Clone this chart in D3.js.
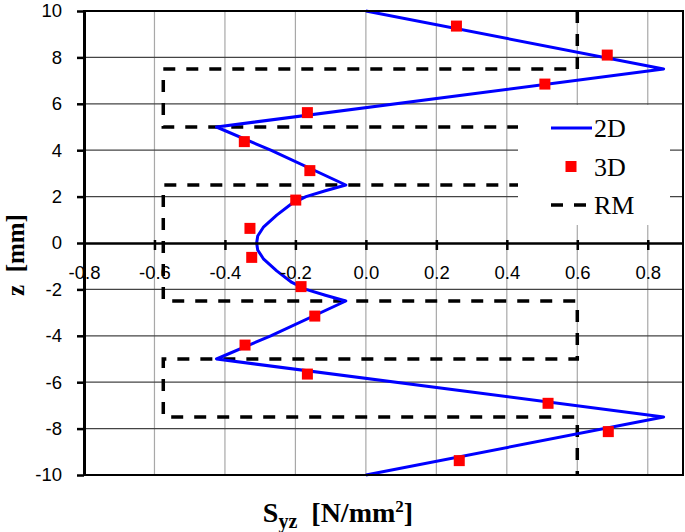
<!DOCTYPE html>
<html>
<head>
<meta charset="utf-8">
<script src="https://cdn.jsdelivr.net/npm/d3@7"></script>
<style>
  body { margin: 0; background: #fff; }
  text { white-space: pre; }
</style>
</head>
<body>
<div id="chart"></div>
<script>
// 2D solution (stress, z)
const line2dS = [0, 0.845, -0.424, -0.27, -0.057, -0.115, -0.17, -0.21, -0.253, -0.29, -0.307, -0.31,
  -0.307, -0.29, -0.253, -0.21, -0.17, -0.115, -0.057, -0.27, -0.424, 0.845, 0];
const line2dZ = [10, 7.5, 5, 4, 2.5, 2.25, 2.0, 1.7, 1.2, 0.7, 0.3, 0,
  -0.3, -0.7, -1.2, -1.7, -2.0, -2.25, -2.5, -4, -5, -7.5, -10];

// 3D results
const pts3dS = [0.257, 0.685, 0.508, -0.166, -0.345, -0.159, -0.199, -0.329,
  -0.324, -0.184, -0.145, -0.343, -0.166, 0.517, 0.688, 0.265];
const pts3dZ = [9.35, 8.10, 6.85, 5.62, 4.37, 3.12, 1.85, 0.63,
  -0.62, -1.88, -3.15, -4.40, -5.65, -6.91, -8.13, -9.38];

// RM step profile
const rmS = [0.6, 0.6, -0.575, -0.575, 0.6, 0.6, -0.575, -0.575, 0.6, 0.6, -0.575, -0.575, 0.6, 0.6];
const rmZ = [10, 7.5, 7.5, 5, 5, 2.5, 2.5, -2.5, -2.5, -5, -5, -7.5, -7.5, -10];

// ticks
const xTicks = [-0.8, -0.6, -0.4, -0.2, 0.0, 0.2, 0.4, 0.6, 0.8];
const yTicks = [-10, -8, -6, -4, -2, 0, 2, 4, 6, 8, 10];
const legendNames = ['2D', '3D', 'RM'];

const width = 685;
const height = 532;

const svg = d3.select('#chart')
  .append('svg')
  .attr('width', width)
  .attr('height', height);

const x = d3.scaleLinear().domain([-0.8, 0.9]).range([84, 683]);
const y = d3.scaleLinear().domain([-10, 10]).range([475, 11]);

// vertical grid (light)
svg.append('g')
  .selectAll('line')
  .data(xTicks.filter(d => d > -0.8))
  .enter()
  .append('line')
  .attr('x1', d => x(d)).attr('x2', d => x(d))
  .attr('y1', y(10)).attr('y2', y(-10))
  .attr('stroke', '#a8a8a8')
  .attr('stroke-width', 1.2);

// horizontal grid (dark)
svg.append('g')
  .selectAll('line')
  .data(yTicks.filter(d => d > -10 && d < 10 && d !== 0))
  .enter()
  .append('line')
  .attr('x1', x(-0.8)).attr('x2', x(0.9))
  .attr('y1', d => y(d)).attr('y2', d => y(d))
  .attr('stroke', '#444')
  .attr('stroke-width', 1.2);

// RM dashed
const rmData = rmS.map((s, i) => ({ s, z: rmZ[i] }));
svg.append('path')
  .datum(rmData)
  .attr('fill', 'none')
  .attr('stroke', '#000')
  .attr('stroke-width', 3.5)
  .attr('stroke-dasharray', '12,11')
  .attr('d', d3.line().x(d => x(d.s)).y(d => y(d.z)));

// 2D blue line
const data2d = line2dS.map((s, i) => ({ s, z: line2dZ[i] }));
svg.append('path')
  .datum(data2d)
  .attr('fill', 'none')
  .attr('stroke', '#0000ff')
  .attr('stroke-width', 3)
  .attr('stroke-linejoin', 'round')
  .attr('d', d3.line().x(d => x(d.s)).y(d => y(d.z)));

// 3D markers
const mk = 11;
svg.append('g')
  .selectAll('rect')
  .data(pts3dS.map((s, i) => ({ s, z: pts3dZ[i] })))
  .enter()
  .append('rect')
  .attr('x', d => x(d.s) - mk / 2)
  .attr('y', d => y(d.z) - mk / 2)
  .attr('width', mk)
  .attr('height', mk)
  .attr('fill', '#ff0000');

// legend
const legend = svg.append('g');
legend.append('rect')
  .attr('x', 518).attr('y', 105)
  .attr('width', 152).attr('height', 120)
  .attr('fill', '#fff');

const legendItem = legend.selectAll('g')
  .data(legendNames)
  .enter()
  .append('g')
  .attr('transform', (d, i) => `translate(551, ${128 + i * 38.5})`);

legendItem.each(function (d) {
  const g = d3.select(this);
  if (d === '2D') {
    g.append('line').attr('x1', 0).attr('x2', 41).attr('stroke', '#0000ff').attr('stroke-width', 3);
  } else if (d === '3D') {
    g.append('rect').attr('x', 20 - mk / 2).attr('y', -mk / 2).attr('width', mk).attr('height', mk).attr('fill', '#ff0000');
  } else {
    g.append('line').attr('x1', 0).attr('x2', 37).attr('stroke', '#000').attr('stroke-width', 3.5).attr('stroke-dasharray', '12,11');
  }
  g.append('text')
    .attr('x', 43)
    .attr('y', 9)
    .text(d)
    .style('font-family', '"Liberation Serif", "Times New Roman", serif')
    .style('font-size', '26px')
    .style('fill', '#000');
});

// frame
svg.append('rect')
  .attr('x', x(-0.8)).attr('y', y(10))
  .attr('width', x(0.9) - x(-0.8)).attr('height', y(-10) - y(10))
  .attr('fill', 'none')
  .attr('stroke', '#000')
  .attr('stroke-width', 2);

// y axis
const yAxis = svg.append('g')
  .attr('transform', `translate(${x(-0.8)},0)`)
  .call(d3.axisLeft(y).tickValues(yTicks).tickFormat(d => String(d)).tickSize(7).tickSizeOuter(0).tickPadding(15));
yAxis.select('.domain').attr('stroke-width', 3);
yAxis.selectAll('.tick line').attr('stroke-width', 2.5);
yAxis.selectAll('text')
  .style('font-family', '"Liberation Sans", Arial, sans-serif')
  .style('font-size', '18.5px')
  .style('fill', '#000');

// x axis at z = 0
const xAxis = svg.append('g')
  .attr('transform', `translate(0,${y(0)})`)
  .call(d3.axisBottom(x).tickValues(xTicks).tickFormat(d => d.toFixed(1)).tickSize(7).tickSizeOuter(0).tickPadding(16));
xAxis.select('.domain').attr('stroke-width', 2.5);
xAxis.selectAll('.tick line').attr('stroke-width', 2.5).attr('y1', -3);
xAxis.selectAll('text')
  .style('font-family', '"Liberation Sans", Arial, sans-serif')
  .style('font-size', '18.5px')
  .style('fill', '#000');

// axis titles
const xTitle = svg.append('text')
  .attr('x', 338)
  .attr('y', 522)
  .attr('text-anchor', 'middle')
  .style('font-family', '"Liberation Serif", "Times New Roman", serif')
  .style('font-weight', 'bold')
  .style('font-size', '28px')
  .style('fill', '#000');
xTitle.append('tspan').text('S');
xTitle.append('tspan').attr('dy', 6).style('font-size', '20px').text('yz');
xTitle.append('tspan').attr('dy', -6).text('  [N/mm');
xTitle.append('tspan').attr('dy', -10).style('font-size', '17px').text('2');
xTitle.append('tspan').attr('dy', 10).text(']');

svg.append('text')
  .attr('transform', 'translate(24,255) rotate(-90)')
  .attr('text-anchor', 'middle')
  .style('font-family', '"Liberation Serif", "Times New Roman", serif')
  .style('font-weight', 'bold')
  .style('font-size', '25px')
  .style('fill', '#000')
  .text('z  [mm]');
</script>
</body>
</html>
